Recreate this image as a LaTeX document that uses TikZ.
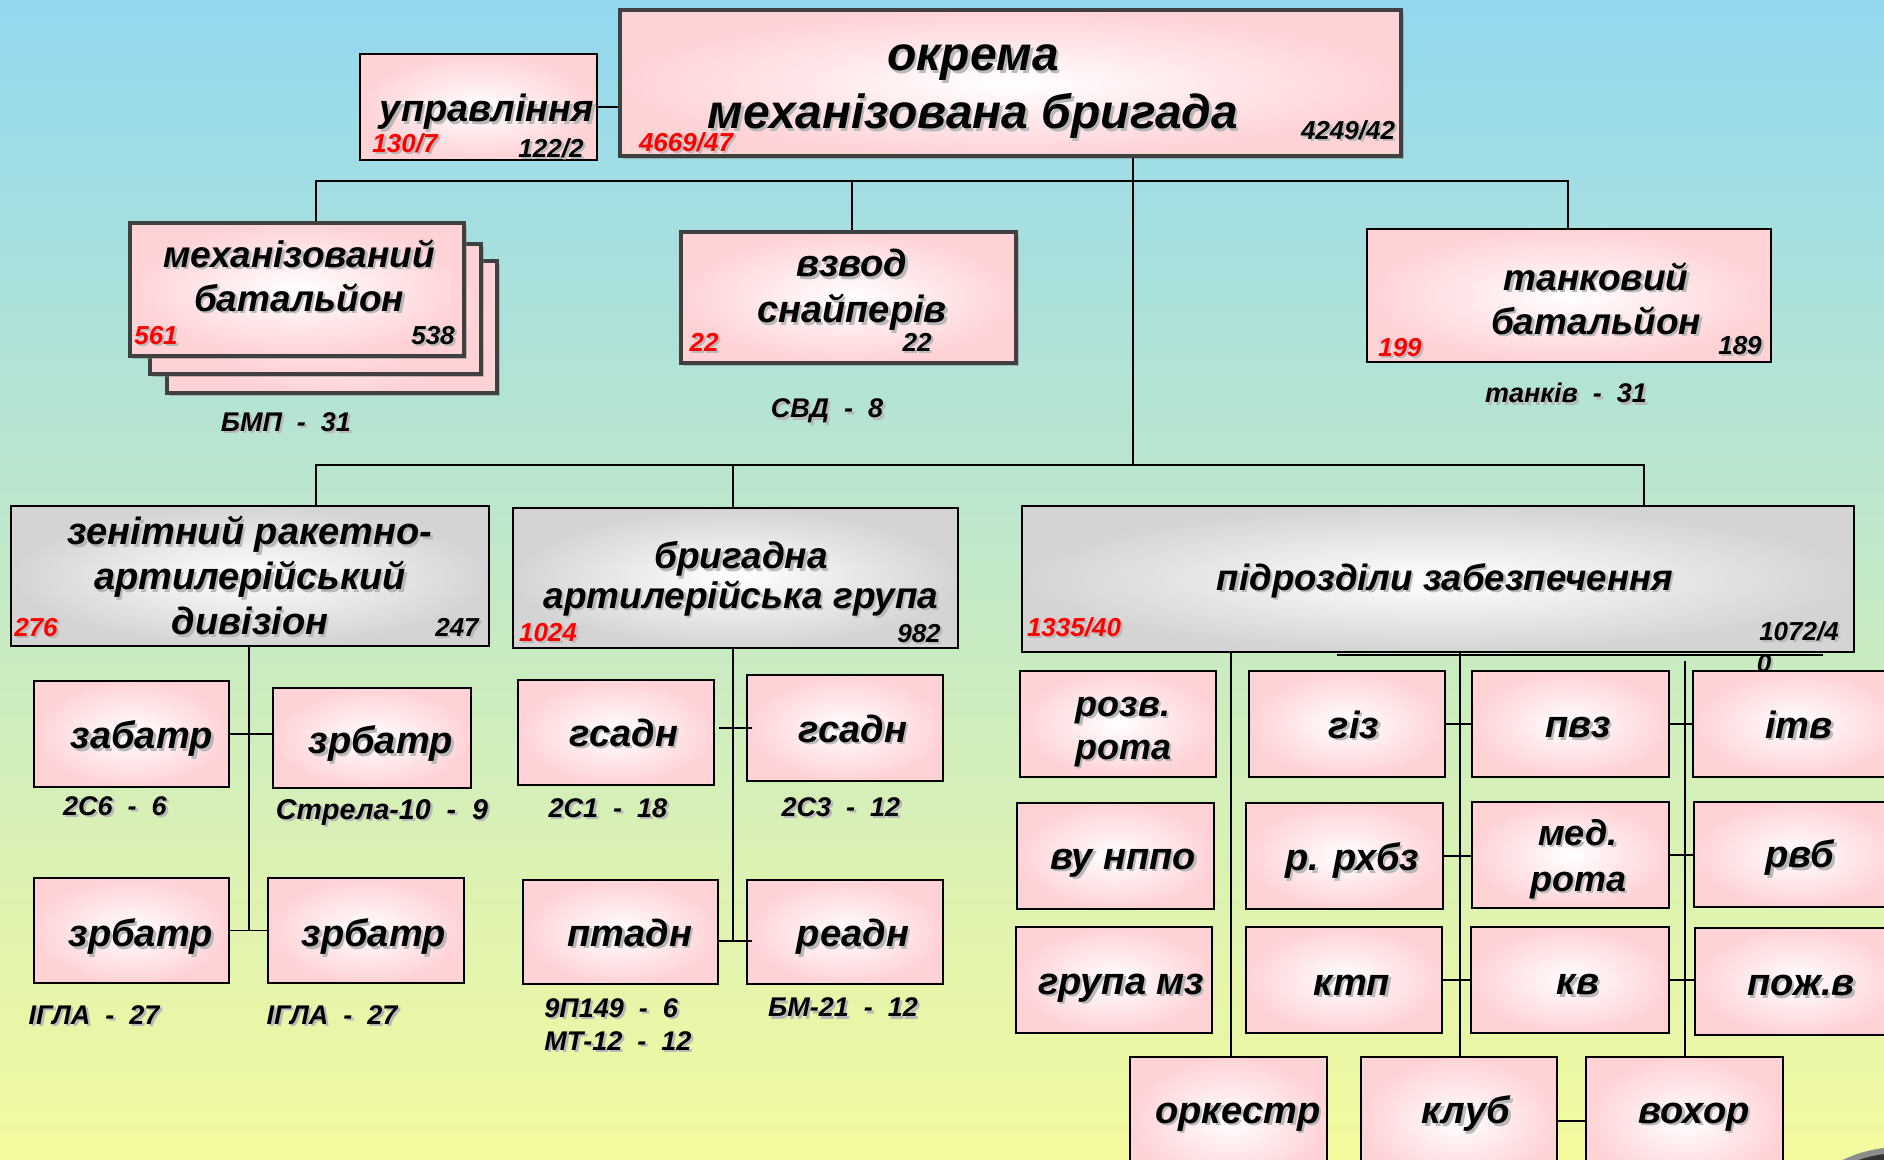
\documentclass[tikz,border=0pt]{standalone}
\usepackage{fontspec}
\setmainfont{Liberation Sans}
\usetikzlibrary{fit,shadows,calc}
\definecolor{pinkedge}{RGB}{255,210,214}
\definecolor{grayedge}{RGB}{212,212,212}
\definecolor{bgtop}{RGB}{146,216,240}
\definecolor{bgmid}{RGB}{190,232,208}
\definecolor{bgbot}{RGB}{244,250,158}
\definecolor{numred}{RGB}{255,0,0}
\newcommand\shd[1]{\leavevmode\rlap{\hspace{1.2pt}\raisebox{-1.2pt}{\textcolor{black!28}{#1}}}#1}
\tikzset{
  pbox/.style={draw=black, line width=0.8pt, inner sep=0pt, shade, inner color=white, outer color=pinkedge},
  gbox/.style={draw=black, line width=0.8pt, inner sep=0pt, shade, inner color=white, outer color=grayedge},
  bbox/.style={pbox, draw=black!75, line width=1.6pt, drop shadow={shadow xshift=1.5pt, shadow yshift=-1.5pt, opacity=0.45}},
  ttl/.style={font=\bfseries\itshape\fontsize{19pt}{22.5pt}\selectfont, align=center, inner sep=0pt},
  num/.style={font=\bfseries\itshape\fontsize{13pt}{15pt}\selectfont, inner sep=0pt, yshift=-1.2pt},
  rnum/.style={num, text=numred},
  lbl/.style={font=\bfseries\itshape\fontsize{13.5pt}{16.5pt}\selectfont, inner sep=0pt, align=left, yshift=-1.2pt},
  conn/.style={draw=black, line width=0.9pt},
}
\begin{document}
\begin{tikzpicture}[x=0.5pt,y=-0.5pt]
\useasboundingbox (0,0) rectangle (1884,1160);
\clip (0,0) rectangle (1884,1160);
\shade[top color=bgtop, middle color=bgmid, bottom color=bgbot] (0,0) rectangle (1884,1160);

% ---- top level
\node[bbox, fit={(620,10) (1401,156)}] (top) {};
\node[ttl, font=\bfseries\itshape\fontsize{24pt}{29pt}\selectfont] (toptxt) at (973,93) {\shd{окрема}\\\shd{механізована бригада}};
\node[rnum] (topL) at (686,141) {\shd{4669/47}};
\node[num] (topR) at (1348,129) {\shd{4249/42}};

\node[pbox, fit={(360,54) (597,160)}] (upr) {};
\node[ttl] (uprtxt) at (487,113) {\shd{управління}};
\node[rnum] (uprL) at (405,142) {\shd{130/7}};
\node[num] (uprR) at (551,147) {\shd{122/2}};

% ---- first row
\node[bbox, fit={(167,261) (497,393)}] (mech3) {};
\node[bbox, fit={(150,244) (481,374)}] (mech2) {};
\node[bbox, fit={(130,223) (464,356)}] (mech) {};
\node[ttl, font=\bfseries\itshape\fontsize{18.5pt}{22pt}\selectfont] (mechtxt) at (299,277) {\shd{механізований}\\\shd{батальйон}};
\node[rnum] (mechL) at (156,334) {\shd{561}};
\node[num] (mechR) at (433,334) {\shd{538}};
\node[lbl] (mechlbl) at (286,421) {\shd{БМП~~-~~31}};

\node[bbox, fit={(681,232) (1016,363)}] (snp) {};
\node[ttl, font=\bfseries\itshape\fontsize{19pt}{23pt}\selectfont] (snptxt) at (852,291) {\shd{взвод}\\\shd{снайперів}};
\node[rnum] (snpL) at (704,341) {\shd{22}};
\node[num] (snpR) at (917,341) {\shd{22}};
\node[lbl] (snplbl) at (827,410) {\shd{СВД~~-~~8}};

\node[pbox, line width=1pt, fit={(1367,229) (1771,362)}] (tank) {};
\node[ttl, font=\bfseries\itshape\fontsize{18.5pt}{22pt}\selectfont] (tanktxt) at (1596,300) {\shd{танковий}\\\shd{батальйон}};
\node[rnum] (tankL) at (1400,346) {\shd{199}};
\node[num] (tankR) at (1740,344) {\shd{189}};
\node[lbl] (tanklbl) at (1566,392) {\shd{танків~~-~~31}};

% ---- second row
\node[gbox, fit={(11,506) (489,646)}] (zen) {};
\node[ttl] (zentxt) at (250,577) {\shd{зенітний ракетно-}\\\shd{артилерійський}\\\shd{дивізіон}};
\node[rnum] (zenL) at (36,626) {\shd{276}};
\node[num] (zenR) at (457,626) {\shd{247}};

\node[gbox, fit={(513,508) (958,648)}] (brg) {};
\node[ttl, font=\bfseries\itshape\fontsize{18.5pt}{18pt}\selectfont] (brgtxt) at (741,580) {\shd{бригадна}\\\shd{артилерійська група}};
\node[rnum] (brgL) at (548,631) {\shd{1024}};
\node[num] (brgR) at (919,632) {\shd{982}};

\node[gbox, fit={(1022,506) (1854,652)}] (pid) {};
\node[ttl, font=\bfseries\itshape\fontsize{18.3pt}{22pt}\selectfont] (pidtxt) at (1445,582) {\shd{підрозділи забезпечення}};
\node[rnum] (pidL) at (1074,626) {\shd{1335/40}};
\node[num] (pidR) at (1799,630) {\shd{1072/4}};
\node[num] (pidR2) at (1764,662) {\shd{0}};

% ---- air defence subunits
\node[pbox, fit={(34,681) (229,787)}] (zab) {};
\node[ttl] (zabtxt) at (142,740) {\shd{забатр}};
\node[lbl] (zablbl) at (115,805) {\shd{2С6~~-~~6}};
\node[pbox, fit={(273,688) (471,788)}] (zr1) {};
\node[ttl] (zr1txt) at (381,745) {\shd{зрбатр}};
\node[lbl, font=\bfseries\itshape\fontsize{14.3pt}{16.5pt}\selectfont] (zr1lbl) at (382,811) {\shd{Стрела-10~~-~~9}};
\node[pbox, fit={(34,878) (229,983)}] (zr2) {};
\node[ttl] (zr2txt) at (141,938) {\shd{зрбатр}};
\node[lbl] (zr2lbl) at (94,1014) {\shd{ІГЛА~~-~~27}};
\node[pbox, fit={(268,878) (464,983)}] (zr3) {};
\node[ttl] (zr3txt) at (374,938) {\shd{зрбатр}};
\node[lbl] (zr3lbl) at (332,1014) {\shd{ІГЛА~~-~~27}};

% ---- artillery subunits
\node[pbox, fit={(518,680) (714,785)}] (gs1) {};
\node[ttl] (gs1txt) at (624,734) {\shd{гсадн}};
\node[lbl] (gs1lbl) at (608,807) {\shd{2С1~~-~~18}};
\node[pbox, fit={(747,675) (943,781)}] (gs2) {};
\node[ttl] (gs2txt) at (853,730) {\shd{гсадн}};
\node[lbl] (gs2lbl) at (841,806) {\shd{2С3~~-~~12}};
\node[pbox, fit={(523,880) (718,984)}] (pt) {};
\node[ttl] (pttxt) at (630,934) {\shd{птадн}};
\node[lbl, anchor=west] (ptlbl) at (544,1023) {\shd{9П149~~-~~6}\\\shd{МТ-12~~-~~12}};
\node[pbox, fit={(747,880) (943,984)}] (re) {};
\node[ttl] (retxt) at (853,938) {\shd{реадн}};
\node[lbl] (relbl) at (843,1006) {\shd{БМ-21~~-~~12}};

% ---- support subunits
\node[pbox, fit={(1020,671) (1216,777)}] (rozv) {};
\node[ttl, font=\bfseries\itshape\fontsize{18pt}{21.5pt}\selectfont] (rozvtxt) at (1123,733) {\shd{розв.}\\\shd{рота}};
\node[pbox, fit={(1249,671) (1445,777)}] (giz) {};
\node[ttl] (giztxt) at (1354,726) {\shd{гіз}};
\node[pbox, fit={(1472,671) (1669,777)}] (pvz) {};
\node[ttl] (pvztxt) at (1578,729) {\shd{пвз}};
\node[pbox, fit={(1693,671) (1900,777)}] (itv) {};
\node[ttl] (itvtxt) at (1799,726) {\shd{ітв}};

\node[pbox, fit={(1017,803) (1214,909)}] (vu) {};
\node[ttl] (vutxt) at (1123,864) {\shd{ву нппо}};
\node[pbox, fit={(1246,803) (1443,909)}] (rhbz) {};
\node[ttl] (rhbztxt) at (1352,862) {\shd{р. рхбз}};
\node[pbox, fit={(1472,802) (1669,908)}] (med) {};
\node[ttl, font=\bfseries\itshape\fontsize{18pt}{23pt}\selectfont] (medtxt) at (1578,860) {\shd{мед.}\\\shd{рота}};
\node[pbox, fit={(1694,802) (1900,907)}] (rvb) {};
\node[ttl] (rvbtxt) at (1800,859) {\shd{рвб}};

\node[pbox, fit={(1016,927) (1212,1033)}] (mz) {};
\node[ttl] (mztxt) at (1121,989) {\shd{група мз}};
\node[pbox, fit={(1246,927) (1442,1033)}] (ktp) {};
\node[ttl] (ktptxt) at (1352,986) {\shd{ктп}};
\node[pbox, fit={(1471,927) (1669,1033)}] (kv) {};
\node[ttl] (kvtxt) at (1578,986) {\shd{кв}};
\node[pbox, fit={(1695,928) (1900,1035)}] (poz) {};
\node[ttl] (poztxt) at (1801,987) {\shd{пож.в}};

\node[pbox, fit={(1130,1057) (1327,1185)}] (ork) {};
\node[ttl] (orktxt) at (1238,1118) {\shd{оркестр}};
\node[pbox, fit={(1361,1057) (1557,1185)}] (klub) {};
\node[ttl] (klubtxt) at (1466,1115) {\shd{клуб}};
\node[pbox, fit={(1586,1057) (1783,1185)}] (voh) {};
\node[ttl] (vohtxt) at (1694,1118) {\shd{вохор}};

% ---- connectors
\draw[conn] (upr.east) -- (upr.east -| top.west);

\coordinate (b1a) at (316,181);
\coordinate (b1b) at (1568,181);
\coordinate (b1c) at (852,181);
\draw[conn] (b1a |- mech.north) -- (b1a) -- (b1b) -- (b1b |- tank.north);
\draw[conn] (b1c) -- (b1c |- snp.north);

\coordinate (vt) at (1133,465);
\draw[conn] (top.south -| vt) -- (vt);

\coordinate (b2a) at (316,465);
\coordinate (b2b) at (1644,465);
\coordinate (b2c) at (733,465);
\draw[conn] (b2a |- zen.north) -- (b2a) -- (b2b) -- (b2b |- pid.north);
\draw[conn] (b2c) -- (b2c |- brg.north);

\coordinate (zv) at (249,0);
\draw[conn] (zen.south -| zv) -- (zv |- zr2.east);
\draw[conn] (zab.east) -- (zab.east -| zr1.west);
\draw[conn] (zr2.east) -- (zr2.east -| zr3.west);

\coordinate (av) at (733,941);
\draw[conn] (brg.south -| av) -- (av);
\draw[conn] ($(gs1.east |- gs2.west)+(4,0)$) -- ($(gs2.west)+(6,0)$);
\draw[conn] (av -| pt.east) -- ($(av -| re.west)+(6,0)$);

\draw[conn] (1337,655) -- (1823,655);
\coordinate (s1) at (1231,0);
\coordinate (s2) at (1460,0);
\coordinate (s3) at (1685,661);
\draw[conn] (pid.south -| s1) -- (s1 |- ork.north);
\draw[conn] (pid.south -| s2) -- (s2 |- klub.north);
\draw[conn] (s3) -- (s3 |- voh.north);
\draw[conn] (giz.east) -- (pvz.west);
\draw[conn] (rhbz.east) -- (rhbz.east -| med.west);
\draw[conn] (ktp.east) -- (ktp.east -| kv.west);
\draw[conn] (pvz.east) -- (pvz.east -| itv.west);
\draw[conn] (med.east) -- (med.east -| rvb.west);
\draw[conn] (kv.east) -- (kv.east -| poz.west);
\draw[conn] (klub.east) -- (klub.east -| voh.west);

% corner button
\filldraw[fill=black!80, draw=black!45, line width=3pt] (1900,1280) circle (130);
\end{tikzpicture}
\end{document}
